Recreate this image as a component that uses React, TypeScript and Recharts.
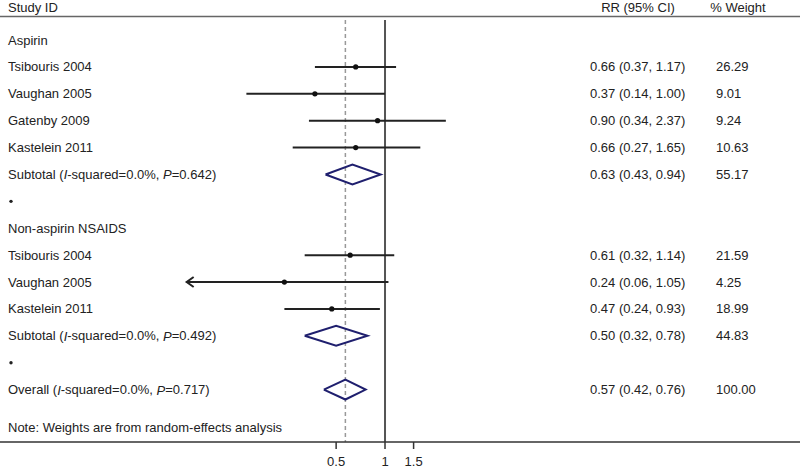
import React from "react";
import {
  ScatterChart, Scatter, XAxis, YAxis, ReferenceLine,
} from "recharts";

// rows, top to bottom
const rowLabels = [
  "Aspirin", "Tsibouris 2004", "Vaughan 2005", "Gatenby 2009", "Kastelein 2011", "Subtotal", "•",
  "Non-aspirin NSAIDS", "Tsibouris 2004", "Vaughan 2005", "Kastelein 2011", "Subtotal", "•",
  "Overall",
];
const rowKind = [
  "group", "study", "study", "study", "study", "pooled", "gap",
  "group", "study", "study", "study", "pooled", "gap",
  "pooled",
];
const rr = [null, 0.66, 0.37, 0.9, 0.66, 0.63, null, null, 0.61, 0.24, 0.47, 0.5, null, 0.57];
const ciLow = [null, 0.37, 0.14, 0.34, 0.27, 0.43, null, null, 0.32, 0.06, 0.24, 0.32, null, 0.42];
const ciHigh = [null, 1.17, 1.0, 2.37, 1.65, 0.94, null, null, 1.14, 1.05, 0.93, 0.78, null, 0.76];
const weights = [null, "26.29", "9.01", "9.24", "10.63", "55.17", null, null, "21.59", "4.25", "18.99", "44.83", null, "100.00"];
const pValues = [null, null, null, null, null, "0.642", null, null, null, null, null, "0.492", null, "0.717"];
const iSquared = "0.0%";
const noteText = "Note: Weights are from random-effects analysis";
const xTicks = [0.5, 1, 1.5];
const arrowBelow = 0.1;

const X_DOMAIN = [0.00425, 360];
const Y_DOMAIN = [-1.49, 14.95];
const HEADER_ROW = -1.23;
const HEADER_LINE = -0.876;
const LINE_TOP = -0.75;
const NOTE_ROW = 14.4;
const DIAMOND_H = 0.37;
const overall = rr[13] as number;

const TXT = "#222";
const NAVY = "#1f1f6e";

const fmt = (v: number) => v.toFixed(2);

const textRows = [
  { x: 1, y: HEADER_ROW, kind: "header" },
  ...rowLabels.map((label, i) => ({ x: 1, y: i, kind: rowKind[i], i })),
  { x: 1, y: NOTE_ROW, kind: "note" },
];

const studyRows = rowKind
  .map((k, i) => ({ k, i }))
  .filter((r) => r.k === "study");
const pooledRows = rowKind
  .map((k, i) => ({ k, i }))
  .filter((r) => r.k === "pooled");

const pointData = studyRows.map(({ i }) => ({ x: rr[i], y: i }));

function TextShape(props: any) {
  const { cy, payload } = props;
  const p = payload;
  const common = { fontSize: 13, fill: TXT, dominantBaseline: "central" as const };
  if (p.kind === "header") {
    return (
      <g>
        <text x={8} y={cy} {...common}>Study ID</text>
        <text x={638} y={cy} textAnchor="middle" {...common}>RR (95% CI)</text>
        <text x={738} y={cy} textAnchor="middle" {...common}>% Weight</text>
      </g>
    );
  }
  if (p.kind === "note") {
    return <text x={8} y={cy} {...common}>{noteText}</text>;
  }
  const i = p.i;
  if (p.kind === "gap") {
    return <circle cx={11} cy={cy} r={1.7} fill={TXT} />;
  }
  let label: React.ReactNode = rowLabels[i];
  if (p.kind === "pooled") {
    label = (
      <>
        {rowLabels[i]} (<tspan fontStyle="italic">I</tspan>-squared={iSquared}, <tspan fontStyle="italic">P</tspan>={pValues[i]})
      </>
    );
  }
  return (
    <g>
      <text x={8} y={cy} {...common}>{label}</text>
      {rr[i] != null && (
        <text x={590} y={cy} {...common}>
          {`${fmt(rr[i] as number)} (${fmt(ciLow[i] as number)}, ${fmt(ciHigh[i] as number)})`}
        </text>
      )}
      {weights[i] != null && (
        <text x={716} y={cy} {...common}>{weights[i]}</text>
      )}
    </g>
  );
}

function CiEnd(props: any) {
  const { cx, cy, payload } = props;
  if (payload && payload.arrow) {
    return (
      <path
        d={`M${cx + 7},${cy - 5} L${cx},${cy} L${cx + 7},${cy + 5}`}
        fill="none"
        stroke={TXT}
        strokeWidth={2}
      />
    );
  }
  return <g />;
}

const Nothing = () => <g />;

const Dot = (props: any) => <circle cx={props.cx} cy={props.cy} r={2.6} fill="#111" />;

export default function App() {
  return (
    <div
      style={{
        position: "absolute", left: 0, top: 0, width: 800, height: 468,
        background: "#fff", fontFamily: "'Liberation Sans', Arial, sans-serif",
      }}
    >
      <ScatterChart width={800} height={468} margin={{ top: 0, right: 0, bottom: 0, left: 0 }}>
        <XAxis
          type="number"
          dataKey="x"
          scale="log"
          domain={X_DOMAIN}
          allowDataOverflow
          ticks={xTicks}
          interval={0}
          tickFormatter={(v: number) => String(v)}
          tick={{ fontSize: 13, fill: TXT }}
          tickSize={7}
          tickMargin={8}
          height={26}
          axisLine={{ stroke: "#333", strokeWidth: 1.5 }}
          tickLine={{ stroke: "#333", strokeWidth: 1.5 }}
        />
        <YAxis type="number" dataKey="y" domain={Y_DOMAIN} allowDataOverflow reversed hide />
        <ReferenceLine y={HEADER_LINE} stroke="#666" strokeWidth={1.5} />
        <ReferenceLine
          segment={[{ x: 1, y: LINE_TOP }, { x: 1, y: Y_DOMAIN[1] }]}
          stroke="#555"
          strokeWidth={2}
        />
        <ReferenceLine
          segment={[{ x: overall, y: LINE_TOP }, { x: overall, y: Y_DOMAIN[1] }]}
          stroke="#999"
          strokeWidth={1.5}
          strokeDasharray="4 3"
        />
        {studyRows.map(({ i }) => (
          <Scatter
            key={`ci-${i}`}
            data={[
              { x: ciLow[i], y: i, arrow: (ciLow[i] as number) < arrowBelow },
              { x: ciHigh[i], y: i, arrow: false },
            ]}
            line={{ stroke: TXT, strokeWidth: 2 }}
            shape={CiEnd}
            isAnimationActive={false}
          />
        ))}
        {pooledRows.map(({ i }) => (
          <Scatter
            key={`dia-${i}`}
            data={[
              { x: ciLow[i], y: i },
              { x: rr[i], y: i - DIAMOND_H },
              { x: ciHigh[i], y: i },
              { x: rr[i], y: i + DIAMOND_H },
              { x: ciLow[i], y: i },
            ]}
            line={{ stroke: NAVY, strokeWidth: 2 }}
            shape={Nothing}
            isAnimationActive={false}
          />
        ))}
        <Scatter data={pointData} shape={Dot} isAnimationActive={false} />
        <Scatter data={textRows} shape={TextShape} isAnimationActive={false} />
      </ScatterChart>
    </div>
  );
}
